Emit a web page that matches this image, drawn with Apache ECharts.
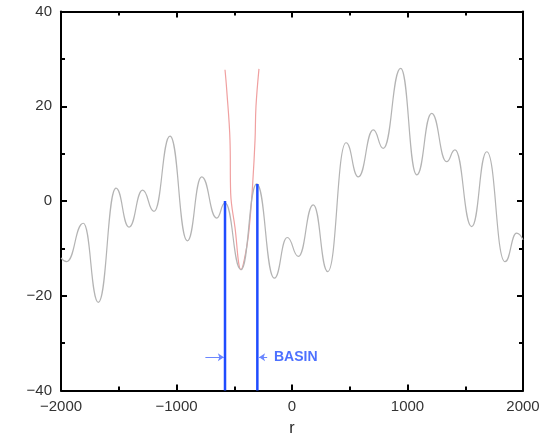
<!DOCTYPE html>
<html>
<head>
<meta charset="utf-8">
<script src="https://cdn.jsdelivr.net/npm/echarts@6/dist/echarts.min.js"></script>
<style>
    html, body { margin: 0; padding: 0; background: #fff; }
    #chart { width: 548px; height: 434px; }
</style>
</head>
<body>
<div id="chart"></div>
<script>
(function () {
    'use strict';

    // gray trace, read at its turning points
    var traceR = [-2000, -1951, -1807, -1677, -1524, -1411, -1293, -1195, -1056, -906, -782, -652, -580,
        -442, -306, -153, -41, 55, 184, 309, 468, 574, 704, 790, 941, 1080, 1209, 1339, 1411, 1556,
        1686, 1844, 1945, 2000];
    var traceV = [-12, -12.8, -4.7, -21.4, 2.7, -5.5, 2.3, -2.2, 13.7, -8.4, 5.1, -3.6, -0.4,
        -14.5, 3.6, -16.3, -7.7, -11.7, -0.8, -14.9, 12.3, 5.1, 15, 11.1, 28, 5.5, 18.5, 8.3, 10.8, -5.4,
        10.4, -12.8, -6.8, -8.2];

    // red well
    var fitR = [-580, -565, -537, -531, -494, -442, -392, -364, -340, -320, -312, -286];
    var fitV = [27.7, 23.4, 12.9, 1.7, -5.5, -14.5, -9.7, -4, 3.8, 12.9, 19.9, 27.9];

    // basin edges
    var basinR = [-580, -300];
    var basinTop = [0, 3.6];
    var basinBottom = -40;

    var arrowFrom = [[-750, -33], [-215, -33]];
    var arrowTo = [[-590, -33], [-285, -33]];
    var basinLabel = [-156, -33];

    var xTicks = { min: -2000, max: 2000, interval: 1000 };
    var yTicks = { min: -40, max: 40, interval: 20 };

    var font = 'Liberation Sans, Arial, sans-serif';
    var blue = '#1f4cff';

    function fmt(v) {
        return v < 0 ? '\u2212' + Math.abs(v) : String(v);
    }

    function zip(a, b) {
        var out = [];
        for (var i = 0; i < a.length; i++) {
            out.push([a[i], b[i]]);
        }
        return out;
    }

    function axis(pos, t, labels) {
        return {
            type: 'value',
            position: pos,
            min: t.min,
            max: t.max,
            interval: t.interval,
            axisLine: { show: true, onZero: false, lineStyle: { color: '#000', width: 2 } },
            axisTick: { show: true, inside: true, length: 6, lineStyle: { color: '#000', width: 2 } },
            minorTick: { show: true, splitNumber: 2, length: 4, lineStyle: { color: '#000', width: 2 } },
            splitLine: { show: false },
            axisLabel: {
                show: labels,
                color: '#333',
                fontSize: 15,
                fontFamily: font,
                margin: 9,
                formatter: fmt
            }
        };
    }

    var xMain = axis('bottom', xTicks, true);
    xMain.name = 'r';
    xMain.nameLocation = 'middle';
    xMain.nameGap = 30;
    xMain.nameTextStyle = { color: '#222', fontSize: 16, fontFamily: font };

    var series = [
        {
            type: 'line',
            data: zip(fitR, fitV),
            smooth: 0.4,
            showSymbol: false,
            lineStyle: { color: '#f0a0a0', width: 1.2 },
            silent: true,
            z: 2
        },
        {
            type: 'line',
            data: zip(traceR, traceV),
            smooth: 0.5,
            smoothMonotone: 'x',
            showSymbol: false,
            lineStyle: { color: '#b4b4b4', width: 1.2 },
            silent: true,
            z: 3
        }
    ];

    for (var i = 0; i < basinR.length; i++) {
        series.push({
            type: 'line',
            data: [[basinR[i], basinBottom], [basinR[i], basinTop[i]]],
            showSymbol: false,
            lineStyle: { color: blue, width: 2.5 },
            silent: true,
            z: 4
        });
    }

    var arrows = [];
    for (var k = 0; k < arrowFrom.length; k++) {
        arrows.push([{ coord: arrowFrom[k] }, { coord: arrowTo[k] }]);
    }

    series.push({
        type: 'scatter',
        data: [basinLabel],
        symbolSize: 0,
        silent: true,
        label: {
            show: true,
            position: 'right',
            distance: 0,
            formatter: 'BASIN',
            color: blue,
            fontSize: 14,
            fontWeight: 'bold',
            fontFamily: font
        },
        markLine: {
            silent: true,
            symbol: ['none', 'arrow'],
            symbolSize: 6,
            label: { show: false },
            lineStyle: { color: '#6a86ff', width: 1, type: 'solid' },
            data: arrows
        },
        z: 5
    });

    var chart = echarts.init(document.getElementById('chart'));
    chart.setOption({
        animation: false,
        backgroundColor: '#fff',
        grid: { left: 61, right: 25, top: 11.5, bottom: 43.5, outerBoundsMode: 'none', containLabel: false },
        xAxis: [xMain, axis('top', xTicks, false)],
        yAxis: [axis('left', yTicks, true), axis('right', yTicks, false)],
        series: series
    });
}());
</script>
</body>
</html>
